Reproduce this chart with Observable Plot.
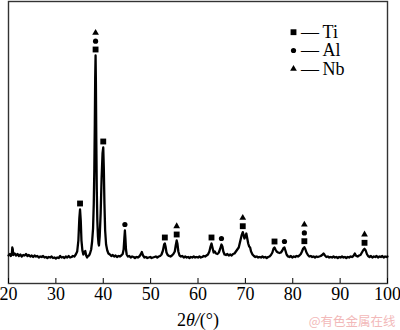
<!DOCTYPE html>
<html><head><meta charset="utf-8">
<script src="https://cdn.jsdelivr.net/npm/d3@7"></script>
<script src="https://cdn.jsdelivr.net/npm/@observablehq/plot@0.6"></script>
<style>body{margin:0;background:#fff;} #chart svg{display:block;}</style>
</head><body><div id="chart"></div>
<script>
// XRD pattern: [2θ (°), intensity (a.u.)]
const pattern = [
[20.0,30],[20.3,45],[20.5,25],[20.7,40],[20.8,110],[20.9,95],[21.0,35],[21.3,50],[21.6,30],[21.9,45],[22.2,25],[22.5,40],[22.8,20],[23.1,35],[23.4,30],[23.7,45],[24.0,25],[24.3,35],[24.6,20],[24.9,30],[25.2,15],[25.5,30],[25.8,20],[26.1,25],[26.4,10],[26.7,20],[27.0,15],[27.3,25],[27.6,10],[27.9,15],[28.2,5],[28.5,15],[28.8,10],[29.1,20],[29.4,5],[29.7,10],[30.0,0],[30.3,10],[30.6,5],[30.9,25],[31.2,10],[31.5,15],[31.8,5],[32.1,20],[32.4,10],[32.7,25],[33.0,10],[33.3,15],[33.6,25],[33.9,20],[34.2,40],[34.5,70],[34.75,180],[34.95,400],[35.1,490],[35.25,380],[35.4,180],[35.6,80],[35.8,40],[36.0,60],[36.2,75],[36.4,30],[36.6,10],[36.8,25],[37.0,30],[37.2,50],[37.45,90],[37.65,170],[37.85,300],[38.0,550],[38.12,900],[38.22,1350],[38.3,1800],[38.38,2030],[38.45,1750],[38.53,1200],[38.63,700],[38.75,380],[38.88,220],[39.0,150],[39.1,130],[39.25,220],[39.45,450],[39.65,800],[39.85,1050],[40.0,1110],[40.12,900],[40.25,550],[40.4,280],[40.6,140],[40.85,80],[41.1,50],[41.4,40],[41.7,25],[42.0,35],[42.3,20],[42.6,30],[42.9,15],[43.2,25],[43.5,20],[43.8,30],[44.1,45],[44.3,90],[44.45,200],[44.57,280],[44.68,200],[44.8,90],[44.95,40],[45.2,20],[45.5,25],[45.8,10],[46.1,20],[46.4,15],[46.7,5],[47.0,15],[47.3,10],[47.6,20],[47.9,40],[48.15,65],[48.4,30],[48.7,10],[49.0,15],[49.3,5],[49.6,10],[49.9,15],[50.2,5],[50.5,10],[50.8,15],[51.1,20],[51.4,10],[51.7,20],[52.0,25],[52.3,40],[52.6,80],[52.85,140],[53.0,150],[53.15,120],[53.35,60],[53.6,35],[53.9,25],[54.2,20],[54.5,30],[54.8,45],[55.1,70],[55.3,130],[55.5,180],[55.65,150],[55.85,70],[56.1,30],[56.4,20],[56.7,25],[57.0,10],[57.3,20],[57.6,10],[57.9,15],[58.2,5],[58.5,15],[58.8,10],[59.1,20],[59.4,10],[59.7,15],[60.0,10],[60.3,20],[60.6,10],[60.9,15],[61.2,25],[61.5,20],[61.8,30],[62.1,40],[62.4,70],[62.65,120],[62.85,150],[63.05,110],[63.3,60],[63.55,70],[63.8,50],[64.1,45],[64.4,60],[64.7,100],[64.95,140],[65.15,120],[65.35,70],[65.6,40],[65.9,35],[66.2,45],[66.5,30],[66.8,40],[67.1,30],[67.4,45],[67.7,50],[68.0,70],[68.3,90],[68.6,110],[68.9,170],[69.2,230],[69.45,263],[69.6,240],[69.8,200],[70.0,220],[70.2,250],[70.4,200],[70.6,150],[70.8,120],[71.0,110],[71.2,70],[71.5,40],[71.8,25],[72.1,15],[72.4,20],[72.7,10],[73.0,15],[73.3,10],[73.6,20],[73.9,10],[74.2,15],[74.5,5],[74.8,15],[75.1,20],[75.4,35],[75.7,60],[75.95,100],[76.15,110],[76.35,90],[76.6,70],[76.9,60],[77.2,55],[77.5,60],[77.8,80],[78.05,105],[78.25,110],[78.45,80],[78.7,40],[79.0,20],[79.3,15],[79.6,25],[79.9,10],[80.2,20],[80.5,15],[80.8,25],[81.1,20],[81.4,30],[81.7,45],[81.95,70],[82.2,100],[82.45,113],[82.65,95],[82.9,60],[83.2,35],[83.5,20],[83.8,25],[84.1,15],[84.4,20],[84.7,10],[85.0,20],[85.3,15],[85.6,20],[85.9,25],[86.2,35],[86.5,50],[86.8,30],[87.1,15],[87.4,20],[87.7,10],[88.0,15],[88.3,10],[88.6,20],[88.9,10],[89.2,15],[89.5,5],[89.8,15],[90.1,10],[90.4,20],[90.7,10],[91.0,15],[91.3,5],[91.6,15],[91.9,10],[92.2,20],[92.5,15],[92.8,25],[93.1,50],[93.4,25],[93.7,20],[94.0,30],[94.3,35],[94.6,60],[94.9,85],[95.15,97],[95.4,80],[95.65,45],[95.9,25],[96.2,15],[96.5,25],[96.8,10],[97.1,20],[97.4,15],[97.7,25],[98.0,10],[98.3,20],[98.6,15],[98.9,25],[99.2,10],[99.5,20],[99.8,15],[100.0,20]
];

// Identified peaks: position, peak-top intensity, phases (bottom to top)
const peakAngle  = [35.1, 38.38, 40.0, 44.57, 53.0, 55.5, 62.85, 64.95, 69.45, 76.15, 78.25, 82.45, 95.15];
const peakTop    = [490, 2030, 1110, 280, 150, 180, 150, 140, 263, 110, 110, 113, 97];
const peakPhases = [["Ti"],["Ti","Al","Nb"],["Ti"],["Al"],["Ti"],["Ti","Nb"],["Ti"],["Al"],["Ti","Nb"],["Ti"],["Al"],["Ti","Al","Nb"],["Ti","Nb"]];

const phases = ["Ti", "Al", "Nb"];
const phaseSymbol = {Ti: "square", Al: "circle", Nb: "triangle"};
const phaseR = {Ti: 3.3, Al: 2.6, Nb: 2.5};

const xTicks = [20, 30, 40, 50, 60, 70, 80, 90, 100];
const xLabel = "2θ/(°)";
const watermark = "@有色金属在线";

const rows = pattern.map(([a, v]) => ({angle: a, intensity: v}));
const markers = peakAngle.flatMap((a, i) =>
  peakPhases[i].map((p, level) => ({angle: a, top: peakTop[i], phase: p, level})));

const serif = "'Liberation Serif', 'Times New Roman', serif";

const markerMarks = [];
for (const level of [0, 1, 2]) {
  for (const p of phases) {
    const sub = markers.filter(m => m.level === level && m.phase === p);
    if (sub.length) markerMarks.push(Plot.dot(sub, {
      x: "angle", y: "top", dy: -6 - 8.3 * level,
      symbol: phaseSymbol[p], r: phaseR[p], fill: "#000", stroke: null
    }));
  }
}

const legendMarks = phases.flatMap((p, i) => [
  Plot.dot([p], {frameAnchor: "top-right", dx: -94, dy: 30.7 + 18.3 * i,
    symbol: phaseSymbol[p], r: phaseR[p], fill: "#000"}),
  Plot.text([p], {frameAnchor: "top-right", dx: -86.5, dy: 30.7 + 18.3 * i,
    text: d => "—\u2009" + d, textAnchor: "start", lineAnchor: "middle",
    fontSize: 18, fontFamily: serif, fill: "#000"})
]);

const chart = Plot.plot({
  width: 400, height: 330,
  marginLeft: 8, marginRight: 13, marginTop: 1, marginBottom: 47,
  style: {fontFamily: serif, fontSize: "18px", background: "#fff", color: "#000"},
  x: {domain: [20, 100], ticks: xTicks},
  y: {domain: [-250, 2570]},
  marks: [
    Plot.frame({stroke: "#333", strokeWidth: 1.4}),
    Plot.axisX({ticks: xTicks, tickSize: -5, tickPadding: 9, label: null,
      fontSize: 18, fontFamily: serif, tickFormat: d => String(d)}),
    Plot.axisY({ticks: [], label: null}),
    Plot.line(rows, {x: "angle", y: "intensity", stroke: "#000", strokeWidth: 2.3,
      strokeLinejoin: "round"}),
    ...markerMarks,
    ...legendMarks,
    Plot.text([xLabel], {frameAnchor: "bottom", dy: 37, lineAnchor: "middle",
      fontSize: 18, fontFamily: serif, className: "xtitle"}),
    Plot.text([watermark], {frameAnchor: "bottom-right", dx: 8, dy: 38,
      textAnchor: "end", lineAnchor: "middle", fontSize: 12.5,
      fontFamily: "'Noto Sans CJK SC', sans-serif", fill: "#f2b9b9"})
  ]
});
document.getElementById("chart").appendChild(chart);

// italic θ in the axis title
d3.select(chart).selectAll(".xtitle text").each(function() {
  const t = d3.select(this);
  t.text(null);
  t.append("tspan").text("2");
  t.append("tspan").attr("font-style", "italic").text("θ/");
  t.append("tspan").text("(°)");
});
</script>
</body></html>
